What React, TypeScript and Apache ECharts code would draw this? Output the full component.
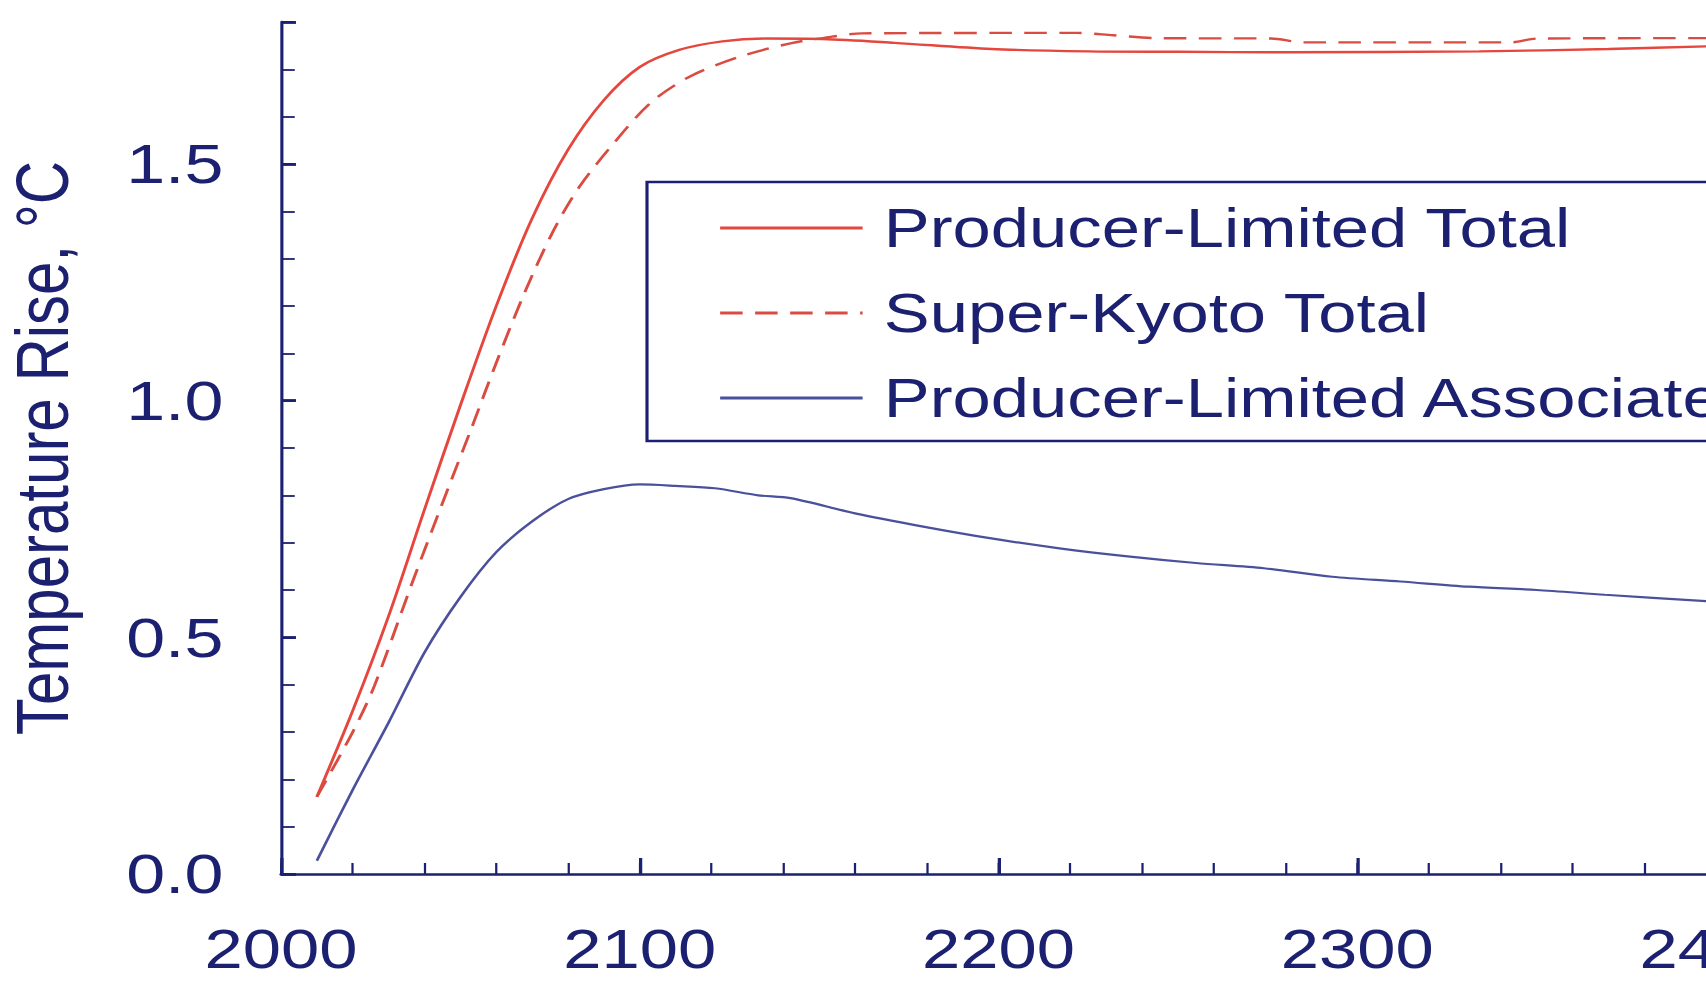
import React, { useEffect, useRef } from "react";
import * as echarts from "echarts";

// Producer-Limited Total (solid red)
const plTotalYears = [2010, 2020, 2030, 2040, 2050, 2060, 2070, 2080, 2090, 2100, 2111, 2123, 2135, 2151, 2171, 2198, 2225, 2250, 2280, 2334, 2370, 2400];
const plTotalValues = [0.163, 0.345, 0.545, 0.77, 0.99, 1.2, 1.385, 1.53, 1.635, 1.705, 1.741, 1.759, 1.765, 1.764, 1.756, 1.743, 1.738, 1.737, 1.736, 1.738, 1.743, 1.749];

// Super-Kyoto Total (dashed red)
const skTotalYears = [2010, 2020, 2026, 2037, 2047, 2053, 2060, 2068, 2076, 2083, 2092, 2103, 2114, 2128, 2142, 2151, 2162, 2222, 2232, 2244, 2276, 2285, 2343, 2350, 2400];
const skTotalValues = [0.163, 0.3, 0.397, 0.624, 0.823, 0.94, 1.08, 1.23, 1.36, 1.45, 1.537, 1.629, 1.685, 1.727, 1.755, 1.766, 1.776, 1.777, 1.772, 1.766, 1.765, 1.757, 1.757, 1.765, 1.766];

// Producer-Limited Associated (solid blue)
const plAssocYears = [2010, 2020, 2030, 2040, 2050, 2060, 2070, 2080, 2090, 2100, 2110, 2121, 2133, 2142, 2160, 2179, 2198, 2217, 2236, 2255, 2274, 2293, 2312, 2331, 2350, 2369, 2400];
const plAssocValues = [0.028, 0.178, 0.32, 0.468, 0.585, 0.68, 0.745, 0.792, 0.813, 0.823, 0.82, 0.815, 0.8, 0.794, 0.762, 0.734, 0.709, 0.688, 0.671, 0.657, 0.646, 0.628, 0.618, 0.607, 0.6, 0.59, 0.575];

const seriesNames = ["Producer-Limited Total", "Super-Kyoto Total", "Producer-Limited Associated"];
const yAxisTitle = "Temperature Rise, °C";

const xMin = 2000;
const xMax = 2400;
const yMin = 0;
const yMax = 1.8;

// The artwork is drawn with a horizontal stretch applied to the whole chart.
const STRETCH = 1.25;
const VIEW_W = 1706;
const VIEW_H = 982;
const CHART_W = 1740 / STRETCH;

const NAVY = "#1c2070";
const RED = "#e5463d";
const RED_DASH = "#d94c42";
const BLUE = "#4b509c";
const FONT = "'Liberation Sans', Arial, Helvetica, sans-serif";

const zip = (xs: number[], ys: number[]) => xs.map((x, i) => [x, ys[i]]);

// Legend entries draw only the line sample, no marker
const hiddenMarker = { color: "rgba(0,0,0,0)", borderWidth: 0, opacity: 0 };

export default function App() {
  const ref = useRef<HTMLDivElement>(null);

  useEffect(() => {
    if (!ref.current) return;
    const chart = echarts.init(ref.current, null, { renderer: "svg" });

    const plotLeft = 281 / STRETCH;
    const plotRightEdge = 1716 / STRETCH;

    chart.setOption({
      animation: false,
      backgroundColor: "#ffffff",
      textStyle: { fontFamily: FONT },
      grid: {
        left: plotLeft,
        right: CHART_W - plotRightEdge,
        top: 22,
        bottom: 108,
        containLabel: false,
        outerBoundsMode: "none",
      },
      legend: {
        orient: "vertical",
        left: 647 / STRETCH,
        top: 182,
        padding: [16, 20, 13, 57],
        itemWidth: 114,
        itemHeight: 20,
        itemGap: 25,
        borderColor: NAVY,
        borderWidth: 2.5,
        borderRadius: 0,
        backgroundColor: "#ffffff",
        itemStyle: hiddenMarker,
        lineStyle: { width: 3 },
        textStyle: {
          color: NAVY,
          fontSize: 55,
          lineHeight: 60,
          fontFamily: FONT,
          padding: [0, 0, 0, 12],
        },
        data: seriesNames.map((name) => ({ name, itemStyle: hiddenMarker })),
      },
      xAxis: [
        {
          type: "value",
          min: xMin,
          max: xMax,
          interval: 20,
          axisLine: { onZero: false, lineStyle: { color: NAVY, width: 2.5 } },
          axisTick: { inside: true, length: 11, lineStyle: { color: NAVY, width: 1.8 } },
          axisLabel: {
            color: NAVY,
            fontSize: 55,
            fontFamily: FONT,
            margin: 47,
            formatter: (v: number) => (v % 100 === 0 ? String(v) : ""),
          },
          splitLine: { show: false },
        },
        {
          type: "value",
          min: xMin,
          max: xMax,
          interval: 100,
          position: "bottom",
          axisLine: { show: false },
          axisTick: { inside: true, length: 16, lineStyle: { color: NAVY, width: 2.6 } },
          axisLabel: { show: false },
          splitLine: { show: false },
        },
      ],
      yAxis: [
        {
          type: "value",
          min: yMin,
          max: yMax,
          interval: 0.1,
          name: yAxisTitle,
          nameLocation: "middle",
          nameRotate: 90,
          nameGap: 161,
          nameTextStyle: { color: NAVY, fontSize: 60, fontFamily: FONT },
          axisLine: { onZero: false, lineStyle: { color: NAVY, width: 2.5 } },
          axisTick: { inside: true, length: 11, lineStyle: { color: NAVY, width: 1.8 } },
          axisLabel: {
            color: NAVY,
            fontSize: 56,
            fontFamily: FONT,
            margin: 46,
            formatter: (v: number) =>
              Math.abs(v * 2 - Math.round(v * 2)) < 1e-6 ? v.toFixed(1) : "",
          },
          splitLine: { show: false },
        },
        {
          type: "value",
          min: yMin,
          max: yMax,
          interval: 0.5,
          position: "left",
          axisLine: { show: false },
          axisTick: { inside: true, length: 12, lineStyle: { color: NAVY, width: 2.8 } },
          axisLabel: { show: false },
          splitLine: { show: false },
        },
      ],
      series: [
        {
          name: seriesNames[0],
          type: "line",
          xAxisIndex: 0,
          yAxisIndex: 0,
          data: zip(plTotalYears, plTotalValues),
          symbol: "none",
          smooth: 0.3,
          lineStyle: { color: RED, width: 2.4, type: "solid" },
          itemStyle: { color: RED },
          z: 3,
        },
        {
          name: seriesNames[1],
          type: "line",
          xAxisIndex: 0,
          yAxisIndex: 0,
          data: zip(skTotalYears, skTotalValues),
          symbol: "none",
          smooth: 0.3,
          lineStyle: { color: RED_DASH, width: 2.4, type: [18, 10] },
          itemStyle: { color: RED_DASH },
          z: 3,
        },
        {
          name: seriesNames[2],
          type: "line",
          xAxisIndex: 0,
          yAxisIndex: 0,
          data: zip(plAssocYears, plAssocValues),
          symbol: "none",
          smooth: 0.3,
          lineStyle: { color: BLUE, width: 2.2, type: "solid" },
          itemStyle: { color: BLUE },
          z: 3,
        },
      ],
    });

    return () => chart.dispose();
  }, []);

  return (
    <div
      style={{
        position: "fixed",
        left: 0,
        top: 0,
        width: VIEW_W,
        height: VIEW_H,
        overflow: "hidden",
        background: "#ffffff",
      }}
    >
      <div
        ref={ref}
        style={{
          width: CHART_W,
          height: VIEW_H,
          transform: `scaleX(${STRETCH})`,
          transformOrigin: "0 0",
        }}
      />
    </div>
  );
}
